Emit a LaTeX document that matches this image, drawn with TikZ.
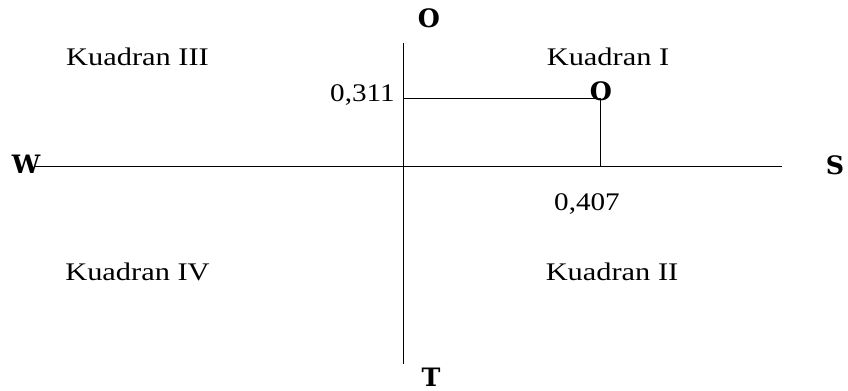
\documentclass[tikz,border=0pt]{standalone}
\usepackage{fontspec}
\setmainfont{Liberation Serif}
\newfontfamily\axisfont{DejaVu Serif}
\usetikzlibrary{calc}
\tikzset{
  kuadran/.style={font=\fontsize{19}{22}\selectfont,xscale=1.2,inner sep=0pt},
  nilai/.style={font=\fontsize{19}{22}\selectfont,xscale=1.15,inner sep=0pt},
  arah/.style={font=\axisfont\bfseries\fontsize{19}{22}\selectfont,inner sep=0pt}
}

\begin{document}
\begin{tikzpicture}[x=0.75pt,y=-0.75pt]
\useasboundingbox (0,0) rectangle (848,391);
% sumbu
\coordinate (kiri) at (35,166);
\coordinate (kanan) at (782,166);
\coordinate (atas) at (403,43);
\coordinate (bawah) at (403,364);
\draw (kiri) -- (kanan);
\draw (atas) -- (bawah);
\node[arah] (w) at (26,164) {W};
\node[arah] (s) at (835,165) {S};
\node[arah] (o) at (429,18) {O};
\node[arah] (t) at (431,377) {T};
% kuadran
\node[kuadran] (k3) at (137.5,57) {Kuadran III};
\node[kuadran] (k1) at (608,57) {Kuadran I};
\node[kuadran] (k4) at (137.5,272) {Kuadran IV};
\node[kuadran] (k2) at (612,272) {Kuadran II};
% titik
\coordinate (y311) at (403,98);
\coordinate (p) at (600,98);
\coordinate (x407) at (600,166);
\node[nilai,anchor=east] (ny) at (395,95) {0,311};
\node[nilai] (nx) at (587,204) {0,407};
\node[arah] (titik) at (601,91) {O};
\draw (y311) -- (p) -- (x407);
\end{tikzpicture}
\end{document}
